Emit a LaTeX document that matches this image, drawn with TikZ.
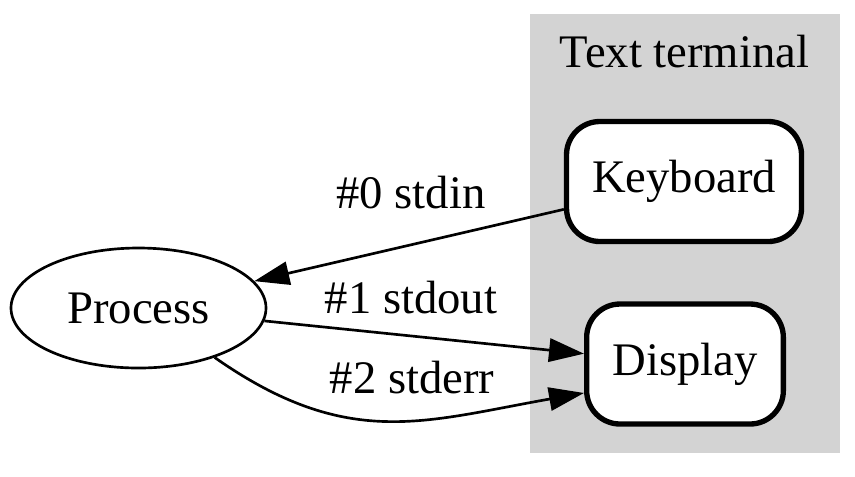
\documentclass[tikz,border=0pt]{standalone}
\usepackage{fontspec}
\setmainfont{Liberation Serif}
\usetikzlibrary{arrows.meta,shapes.geometric}
\definecolor{termgray}{RGB}{211,211,211}

\begin{document}
\begin{tikzpicture}[x=0.3pt,y=-0.3pt,
    every node/.style={font=\fontsize{14}{17}\selectfont},
    devbox/.style={draw,line width=1.6pt,fill=white,rounded corners=10pt,
      minimum height=36pt,inner sep=0pt},
    procnode/.style={draw,ellipse,line width=0.8pt,minimum width=76.5pt,
      minimum height=36pt,inner sep=0pt},
    stream/.style={line width=0.8pt,-{Triangle[length=10.5pt,width=7pt]}},
    streamlabel/.style={anchor=base,inner sep=0pt}]
  \useasboundingbox (0,0) rectangle (855,476);
  \fill[termgray] (530,14) rectangle (840,453);
  \node[anchor=base,inner sep=0pt] (title) at (684.5,67) {Text terminal};
  \node[devbox,minimum width=70.5pt] (keyboard) at (684,181.5) {Keyboard};
  \node[devbox,minimum width=59pt] (display) at (685,364) {Display};
  \node[procnode] (process) at (138.5,308) {Process};
  \draw[stream] (keyboard) -- (process);
  \draw[stream] (process) -- (display);
  \draw[stream] (process.-33) to[out=-35,in=190,looseness=1.12] (display.196);
  \node[streamlabel] (stdin) at (411,208) {\#0 stdin};
  \node[streamlabel] (stdout) at (411,313) {\#1 stdout};
  \node[streamlabel] (stderr) at (412,393) {\#2 stderr};
\end{tikzpicture}
\end{document}
